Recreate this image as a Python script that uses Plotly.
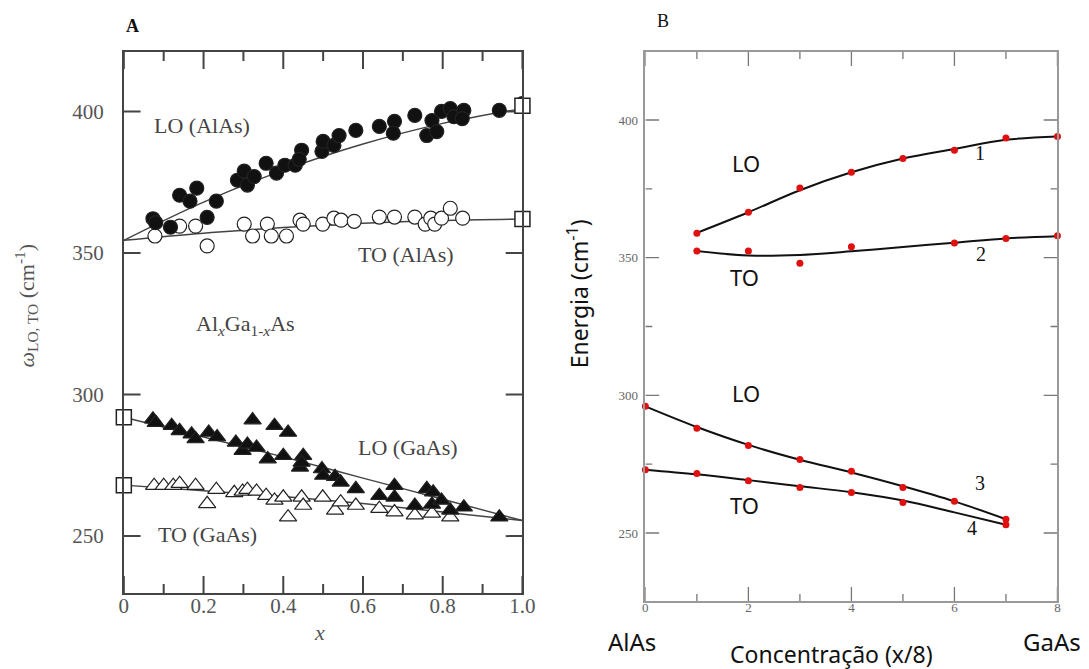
import plotly.graph_objects as go

W, H = 1089, 669

# ---------------- Panel A data ----------------
lo_alas_x = [0.073, 0.08, 0.117, 0.14, 0.166, 0.183, 0.209, 0.232, 0.285, 0.302, 0.31, 0.327,
             0.357, 0.383, 0.404, 0.43, 0.446, 0.44, 0.497, 0.5, 0.527, 0.54, 0.582, 0.641,
             0.679, 0.676, 0.73, 0.76, 0.773, 0.785, 0.797, 0.819, 0.828, 0.853, 0.849, 0.942, 1.0]
lo_alas_y = [362.1, 360.7, 359.1, 370.4, 368.3, 372.9, 362.6, 368.3, 375.7, 378.9, 374, 377,
             381.7, 378.2, 381, 381, 386.3, 383.1, 385.9, 389.4, 388, 391.5, 393.3, 394.7,
             396.5, 392.3, 398.6, 391.5, 396.8, 392.9, 400, 401, 398.2, 400.4, 397.5, 400.4, 402.8]

to_alas_x = [0.078, 0.14, 0.18, 0.209, 0.302, 0.323, 0.36, 0.37, 0.408, 0.442, 0.45, 0.499,
             0.527, 0.545, 0.578, 0.641, 0.679, 0.73, 0.756, 0.77, 0.78, 0.797, 0.819, 0.85]
to_alas_y = [356, 359.5, 359.5, 352.5, 360.2, 356, 360.2, 356, 356, 361.6, 360.2, 360.2,
             362.3, 361.6, 361.2, 362.7, 362.7, 362.7, 360.2, 362.3, 360.2, 362.3, 365.8, 362.3]

lo_gaas_x = [0.073, 0.08, 0.12, 0.14, 0.17, 0.18, 0.213, 0.234, 0.281, 0.298, 0.31, 0.323,
             0.333, 0.361, 0.378, 0.4, 0.412, 0.442, 0.45, 0.446, 0.497, 0.5, 0.53, 0.544,
             0.582, 0.641, 0.679, 0.679, 0.73, 0.76, 0.776, 0.773, 0.797, 0.819, 0.853, 0.942]
lo_gaas_y = [291.3, 290.1, 289, 287.2, 286, 284.3, 286.6, 285, 283.1, 280.2, 282.4, 291,
             281.3, 277.2, 289, 278.4, 286.6, 274.3, 278.4, 276, 273.7, 271.4, 271, 269,
             266.7, 264.3, 267.8, 263.7, 260.8, 266.7, 265.5, 261.2, 262.6, 259.1, 260.2, 256.7]

to_gaas_x = [0.076, 0.1, 0.124, 0.14, 0.18, 0.209, 0.232, 0.277, 0.298, 0.31, 0.333, 0.357,
             0.378, 0.4, 0.412, 0.446, 0.45, 0.499, 0.53, 0.544, 0.582, 0.641, 0.679, 0.73,
             0.773, 0.819]
to_gaas_y = [267.8, 267.8, 267.8, 268.5, 267.8, 261.4, 266.4, 265.3, 265.8, 266.4, 265.8, 264.3,
             262.6, 263.7, 256.7, 263.7, 260.8, 263.7, 259.1, 262, 260.8, 259.7, 258.5, 257.4,
             258, 256.7]

# end-member values (open squares)
end_x = [1.0, 1.0, 0.0, 0.0]
end_y = [402, 362, 292, 268]

# fitted curves
fit_x = [0, 0.2, 0.4, 0.6, 0.8, 1.0]
lo_alas_fit = [354.5, 368, 379.2, 388.5, 395.8, 401]
to_alas_fit = [354.5, 357, 359, 360.5, 361.5, 362]
lo_gaas_fit = [292, 285, 278, 270.5, 263, 255.5]
to_gaas_fit = [268, 266, 264, 261.5, 258.5, 255.5]

a_xticks = [0, 0.2, 0.4, 0.6, 0.8, 1.0]
a_xtext = ["0", "0.2", "0.4", "0.6", "0.8", "1.0"]
a_xminor = [0.1, 0.3, 0.5, 0.7, 0.9]
a_yticks = [250, 300, 350, 400]

# ---------------- Panel B data ----------------
b1_x = [1, 2, 3, 4, 5, 6, 7, 8]
b1_y = [358.9, 366.5, 375.3, 381, 386, 389, 393.5, 394]
b1_curve = [359, 366.5, 374.5, 381, 386, 389.5, 392.8, 394]

b2_x = [1, 2, 3, 4, 6, 7, 8]
b2_y = [352.4, 352.4, 348, 354, 355.3, 357, 358]
b2_curve_x = [1, 2, 3, 4, 5, 6, 7, 8]
b2_curve = [352.4, 350.8, 351, 352.3, 353.9, 355.4, 357, 357.8]

b3_x = [0, 1, 2, 3, 4, 5, 6, 7]
b3_y = [296, 288, 281.8, 276.7, 272.4, 266.5, 261.5, 255]
b3_curve = [296, 288.5, 282, 276.6, 272, 267, 261.5, 255]

b4_x = [0, 1, 2, 3, 4, 5, 7]
b4_y = [273, 271.6, 269, 266.5, 264.7, 261.1, 253]
b4_curve_x = [0, 1, 2, 3, 4, 5, 6, 7]
b4_curve = [273, 271.3, 269.2, 267, 264.8, 261.8, 257.5, 253]

b_xticks = [0, 2, 4, 6, 8]
b_xminor = [1, 3, 5, 7]
b_yticks = [250, 300, 350, 400]
b_yminor = [275, 325, 375]

serif = "Liberation Serif, Times New Roman, serif"
sans = "Noto Sans, Open Sans, sans-serif"

# frame geometry (pixels) and ranges
xa_px, ya_px = (112.7, 518), (44, 585)
xb_px, yb_px = (643, 1062), (44, 593)
xa_rng, ya_rng = [0, 1.0], [229.9, 421]
xb_rng, yb_rng = [0, 8], [225.3, 424.7]

fig = go.Figure()

# inside tick marks, drawn as short line segments on all four sides of each frame
def add_ticks(xr, yr, xrng, yrng, xpx, ypx, xvals, yvals, length, width, color):
    ux = (xrng[1] - xrng[0]) / (xpx[1] - xpx[0])   # data units per pixel
    uy = (yrng[1] - yrng[0]) / (ypx[1] - ypx[0])
    tx, ty = [], []
    for v in xvals:
        tx += [v, v, None, v, v, None]
        ty += [yrng[0], yrng[0] + length * uy, None, yrng[1], yrng[1] - length * uy, None]
    for v in yvals:
        tx += [xrng[0], xrng[0] + length * ux, None, xrng[1], xrng[1] - length * ux, None]
        ty += [v, v, None, v, v, None]
    fig.add_trace(go.Scatter(x=tx, y=ty, mode="lines", xaxis=xr, yaxis=yr, hoverinfo="skip",
                             line=dict(color=color, width=width)))

add_ticks("x", "y", xa_rng, ya_rng, xa_px, ya_px, a_xticks, a_yticks, 17, 2, "#444")
add_ticks("x", "y", xa_rng, ya_rng, xa_px, ya_px, a_xminor, [], 9, 2, "#444")
add_ticks("x2", "y2", xb_rng, yb_rng, xb_px, yb_px, b_xticks, b_yticks, 14, 1.3, "#777")
add_ticks("x2", "y2", xb_rng, yb_rng, xb_px, yb_px, b_xminor, b_yminor, 7, 1.3, "#777")

# panel A fit lines
for fy in [lo_alas_fit, to_alas_fit, lo_gaas_fit, to_gaas_fit]:
    fig.add_trace(go.Scatter(x=fit_x, y=fy, mode="lines", line=dict(color="#444", width=1.4, shape="spline"),
                             xaxis="x", yaxis="y", hoverinfo="skip"))

mk_line = dict(color="#222", width=1.2)
fig.add_trace(go.Scatter(x=to_gaas_x, y=to_gaas_y, mode="markers", xaxis="x", yaxis="y",
                         marker=dict(symbol="triangle-up", size=15, color="white", line=mk_line)))
fig.add_trace(go.Scatter(x=lo_gaas_x, y=lo_gaas_y, mode="markers", xaxis="x", yaxis="y",
                         marker=dict(symbol="triangle-up", size=15, color="#111", line=mk_line)))
fig.add_trace(go.Scatter(x=to_alas_x, y=to_alas_y, mode="markers", xaxis="x", yaxis="y",
                         marker=dict(symbol="circle", size=14, color="white", line=mk_line)))
fig.add_trace(go.Scatter(x=lo_alas_x, y=lo_alas_y, mode="markers", xaxis="x", yaxis="y",
                         marker=dict(symbol="circle", size=14, color="#111", line=mk_line)))
fig.add_trace(go.Scatter(x=end_x, y=end_y, mode="markers", xaxis="x", yaxis="y", cliponaxis=False,
                         marker=dict(symbol="square", size=15, color="white", line=dict(color="#222", width=1.5))))

# panel B curves and points
for cx, cy in [(b1_x, b1_curve), (b2_curve_x, b2_curve), (b3_x, b3_curve), (b4_curve_x, b4_curve)]:
    fig.add_trace(go.Scatter(x=cx, y=cy, mode="lines", line=dict(color="#111", width=2, shape="spline"),
                             xaxis="x2", yaxis="y2", hoverinfo="skip"))
for px, py in [(b1_x, b1_y), (b2_x, b2_y), (b3_x, b3_y), (b4_x, b4_y)]:
    fig.add_trace(go.Scatter(x=px, y=py, mode="markers", xaxis="x2", yaxis="y2", cliponaxis=False,
                             marker=dict(symbol="circle", size=7, color="#e01010", line=dict(width=0))))

base = dict(showgrid=False, zeroline=False, showline=True, mirror=True, ticks="")
fig.update_layout(
    width=W, height=H, margin=dict(l=0, r=0, t=0, b=0),
    paper_bgcolor="white", plot_bgcolor="white", showlegend=False,
    xaxis=dict(base, domain=[xa_px[0] / W, xa_px[1] / W], range=xa_rng, tickvals=a_xticks, ticktext=a_xtext,
               anchor="y", linecolor="#444", linewidth=2, ticklabelstandoff=-7,
               tickfont=dict(family=serif, size=21, color="#555")),
    yaxis=dict(base, domain=[1 - ya_px[1] / H, 1 - ya_px[0] / H], range=ya_rng, tickvals=a_yticks, anchor="x",
               linecolor="#444", linewidth=2, ticklabelstandoff=14,
               tickfont=dict(family=serif, size=21, color="#555")),
    xaxis2=dict(base, domain=[xb_px[0] / W, xb_px[1] / W], range=xb_rng, tickvals=b_xticks, anchor="y2",
                linecolor="#999", linewidth=1.5, ticklabelstandoff=-6,
                tickfont=dict(family=serif, size=13, color="#666")),
    yaxis2=dict(base, domain=[1 - yb_px[1] / H, 1 - yb_px[0] / H], range=yb_rng, tickvals=b_yticks, anchor="x2",
                linecolor="#999", linewidth=1.5, ticklabelstandoff=3,
                tickfont=dict(family=serif, size=13, color="#666")),
)

ann = []
def txt(x, y, s, xref, yref, font, **kw):
    # texts come out a little low in this renderer, so nudge them up
    ann.append(dict(x=x, y=y, text=s, xref=xref, yref=yref, showarrow=False, font=font,
                    xanchor="center", yanchor="middle", yshift=round(font["size"] * 0.38), **kw))

fa = dict(family=serif, size=22, color="#444")
txt(0.195, 392.3, "LO (AlAs)", "x", "y", fa)
txt(0.709, 346.5, "TO (AlAs)", "x", "y", fa)
txt(0.304, 321.8, "Al<sub><i>x</i></sub>Ga<sub>1-<i>x</i></sub>As", "x", "y", fa)
txt(0.713, 278.4, "LO (GaAs)", "x", "y", fa)
txt(0.209, 247.9, "TO (GaAs)", "x", "y", fa)
txt(121 / W, 1 - 25 / H, "<b>A</b>", "paper", "paper", dict(family=serif, size=18, color="#111"))
txt(312 / W, 1 - 632 / H, "<i>x</i>", "paper", "paper", dict(family=serif, size=22, color="#555"))
ann.append(dict(x=28 / W, y=1 - 308 / H, xref="paper", yref="paper", showarrow=False, textangle=-90,
                text="<i>ω</i><sub>LO, TO</sub> (cm<sup>-1</sup>)", xanchor="center", yanchor="middle",
                xshift=-14, yshift=10, font=dict(family=serif, size=22, color="#555")))

fb = dict(family=sans, size=22, color="#111")
txt(1.95, 381.3, "LO", "x2", "y2", fb)
txt(1.93, 340, "TO", "x2", "y2", fb)
txt(1.95, 298, "LO", "x2", "y2", fb)
txt(1.93, 257.3, "TO", "x2", "y2", fb)
fn = dict(family=serif, size=20, color="#111")
txt(6.49, 385, "1", "x2", "y2", fn)
txt(6.51, 348.6, "2", "x2", "y2", fn)
txt(6.49, 265.2, "3", "x2", "y2", fn)
txt(6.35, 248.8, "4", "x2", "y2", fn)
txt(661 / W, 1 - 20 / H, "B", "paper", "paper", dict(family=serif, size=18, color="#111"))
txt(629 / W, 1 - 642 / H, "AlAs", "paper", "paper", dict(family=sans, size=24, color="#111"))
txt(1056 / W, 1 - 642 / H, "GaAs", "paper", "paper", dict(family=sans, size=24, color="#111"))
txt(832 / W, 1 - 655 / H, "Concentração (x/8)", "paper", "paper", dict(family=sans, size=23, color="#111"))
ann.append(dict(x=583 / W, y=1 - 306 / H, xref="paper", yref="paper", showarrow=False, textangle=-90,
                text="Energia (cm<sup>-1</sup>)", xanchor="center", yanchor="middle",
                xshift=-8, yshift=20, font=dict(family=sans, size=23, color="#111")))

fig.update_layout(annotations=ann)

fig.write_html("out.html")
